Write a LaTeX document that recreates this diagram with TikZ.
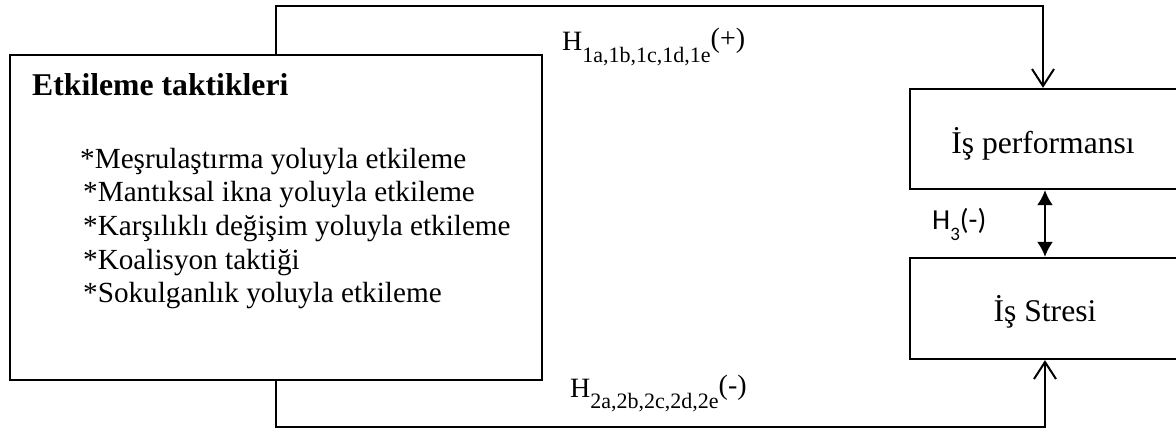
\documentclass[tikz,border=0pt]{standalone}
\usepackage{fontspec}
\setmainfont{Liberation Serif}
\newfontfamily\hsans{Carlito}
\usetikzlibrary{arrows.meta}
\begin{document}
\begin{tikzpicture}[x=1pt,y=-1pt,
  boxst/.style={draw, line width=2.3pt, inner sep=0pt},
  txt/.style={inner sep=0pt, font=\fontsize{29.2}{33.7}\selectfont},
  big/.style={inner sep=0pt, font=\fontsize{31.6}{36}\selectfont},
  conn/.style={line width=2pt},
  barb/.style={conn, -{Straight Barb[length=17pt,width=22pt,line width=2pt]}},
  dbl/.style={conn, {Latex[length=15pt,width=16pt]}-{Latex[length=15pt,width=16pt]}}]
\useasboundingbox (0,0) rectangle (1176,432);
% boxes
\node (lb) [boxst, minimum width=532pt, minimum height=325pt] at (276,217.5) {};
\node (perf) [boxst, minimum width=270pt, minimum height=100pt] at (1045,139) {};
\node (str) [boxst, minimum width=270pt, minimum height=101pt] at (1045,308.5) {};
% texts in left box
\node (title) [big, anchor=base west, font=\fontsize{31.7}{36}\selectfont\bfseries] at (32,95) {Etkileme taktikleri};
\node (l1) [txt, anchor=base west] at (80,168) {*Meşrulaştırma yoluyla etkileme};
\node (l2) [txt, anchor=base west] at (83,201.7) {*Mantıksal ikna yoluyla etkileme};
\node (l3) [txt, anchor=base west] at (83,235.4) {*Karşılıklı değişim yoluyla etkileme};
\node (l4) [txt, anchor=base west] at (83,269.1) {*Koalisyon taktiği};
\node (l5) [txt, anchor=base west] at (83,302.8) {*Sokulganlık yoluyla etkileme};
% texts in right boxes
\node (tperf) [big, anchor=base] at (1043,153) {İş performansı};
\node (tstr) [big, anchor=base] at (1045,321) {İş Stresi};
% connectors
\coordinate (top) at (1043,6);
\coordinate (bot) at (1045,427);
\draw[barb] (lb.north) |- (top) -- (top |- perf.north);
\draw[barb] (lb.south) |- (bot) -- (str.south);
\draw[dbl] (perf.south) -- (str.north);
% labels
\node (h1) [anchor=base west, inner sep=0pt, font=\fontsize{28}{28}\selectfont] at (562,50) {H\raisebox{-12pt}{\fontsize{22}{22}\selectfont 1a,1b,1c,1d,1e}\raisebox{3pt}{(+)}};
\node (h2) [anchor=base west, inner sep=0pt, font=\fontsize{28}{28}\selectfont] at (570,397) {H\raisebox{-11pt}{\fontsize{22}{22}\selectfont 2a,2b,2c,2d,2e}\raisebox{3pt}{(-)}};
\node (h3) [inner sep=0pt, anchor=base west, font=\hsans\fontsize{29}{29}\selectfont] at (932,229) {H\raisebox{-11pt}{\fontsize{19}{19}\selectfont 3}(-)};
\end{tikzpicture}
\end{document}
